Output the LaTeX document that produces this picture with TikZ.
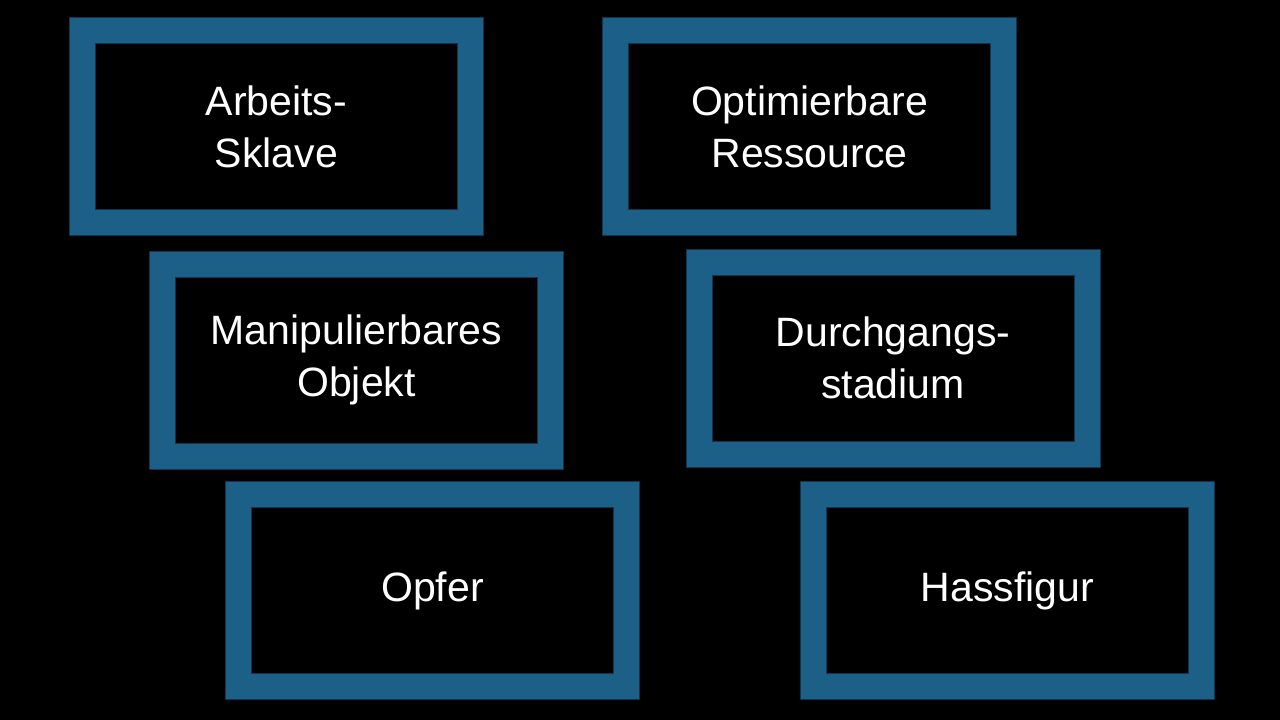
\documentclass[tikz,border=0pt]{standalone}
\usepackage{fontspec}
\setmainfont{Liberation Sans}
\definecolor{frameblue}{RGB}{28,95,135}
\definecolor{frameedge}{RGB}{14,52,78}
\tikzset{
  tbox/.style={rectangle, draw=frameedge, double=frameblue, double distance=25pt, line width=1pt,
    minimum width=388pt, minimum height=192pt, inner sep=0pt, text=white, align=center,
    font=\fontsize{41}{52}\selectfont, fill=black}
}
\begin{document}
\begin{tikzpicture}[x=1pt,y=-1pt]
\fill[black] (0,0) rectangle (1280,720);
\useasboundingbox (0,0) rectangle (1280,720);
\node[tbox] (a) at (276.5,126.5) {Arbeits-\\Sklave};
\node[tbox] (b) at (809.5,126.5) {Optimierbare\\Ressource};
\node[tbox] (c) at (356.5,360) {Manipulierbares\\Objekt};
\node[tbox] (d) at (893,358) {Durchgangs-\\stadium};
\node[tbox] (e) at (432.5,590.5) {Opfer};
\node[tbox] (f) at (1007.5,590.5) {Hassfigur};
\end{tikzpicture}
\end{document}
